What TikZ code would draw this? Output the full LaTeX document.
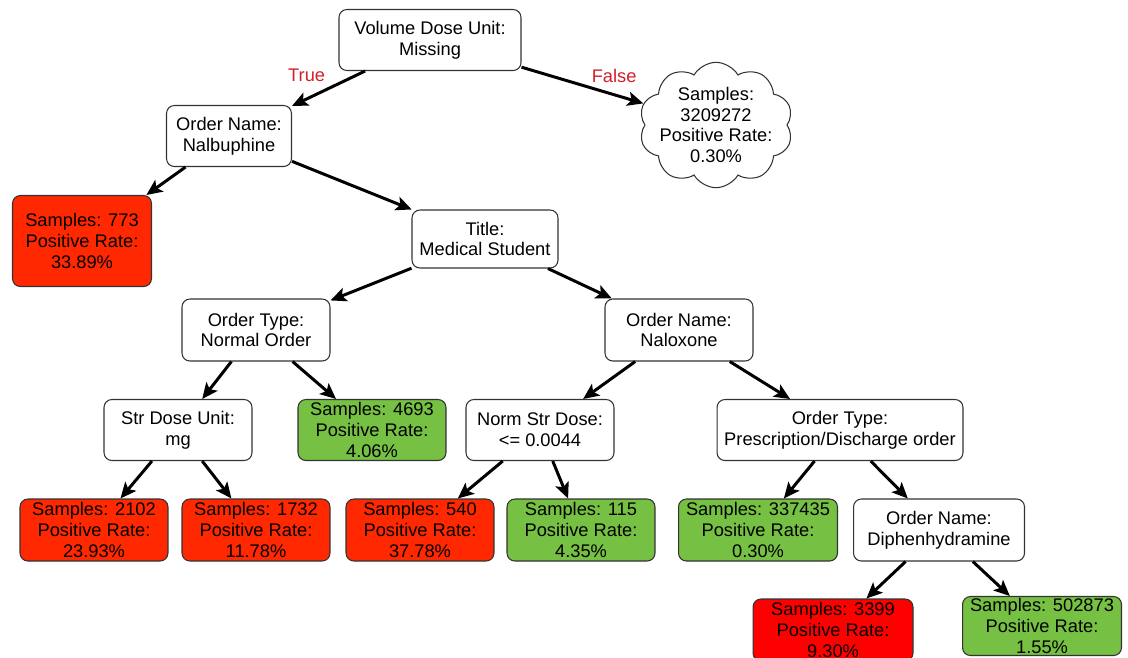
\documentclass[tikz,border=0pt]{standalone}
\usepackage{fontspec}
\setmainfont{Liberation Sans}
\usepackage{xcolor}
\usetikzlibrary{arrows.meta,shapes.symbols}
\definecolor{leafred}{RGB}{255,40,0}
\definecolor{leafpure}{RGB}{255,0,0}
\definecolor{leafgreen}{RGB}{118,192,67}
\definecolor{truered}{RGB}{208,32,40}

\begin{document}
\begin{tikzpicture}[x=0.02cm,y=-0.02cm,
  every node/.style={font=\fontsize{10.4}{11.9}\selectfont, align=center},
  box/.style={draw=black!80, rounded corners=4.5pt, line width=0.6pt, fill=white, inner sep=0pt, minimum height=1.22cm, minimum width=2.96cm},
  leaf/.style={box, fill=#1},
  arr/.style={-{Stealth[length=9pt,width=8pt,inset=2pt]}, line width=1.7pt},
  lbl/.style={text=truered}]
\useasboundingbox (0,0) rectangle (1128,657);

\node[box, minimum width=3.64cm](root) at (430,40){Volume Dose Unit:\\Missing};
\node[box, minimum width=2.5cm](nalb) at (229,136){Order Name:\\Nalbuphine};
\node[draw=black!80, line width=0.6pt, cloud, cloud puffs=10, cloud puff arc=120, cloud ignores aspect, inner xsep=-3.5pt, inner ysep=-0.5pt](cloud) at (716,125){Samples:\\3209272\\Positive Rate:\\0.30\%};
\node[leaf=leafred, minimum width=2.78cm, minimum height=1.82cm](l773) at (82,241){Samples: 773\\Positive Rate:\\33.89\%};
\node[box, minimum width=2.92cm, minimum height=1.16cm](title) at (485,239){Title:\\Medical Student};
\node[box, minimum height=1.24cm](normal) at (256,330){Order Type:\\Normal Order};
\node[box, minimum height=1.24cm](nalox) at (679,330){Order Name:\\Naloxone};
\node[box](strdose) at (178,430){Str Dose Unit:\\mg};
\node[leaf=leafgreen](l4693) at (372,430){Samples: 4693\\Positive Rate:\\4.06\%};
\node[box](normstr) at (540,430){Norm Str Dose:\\<= 0.0044};
\node[box, minimum width=4.92cm](presc) at (840,430){Order Type:\\Prescription/Discharge order};
\node[leaf=leafred, minimum height=1.24cm](l2102) at (94,530){Samples: 2102\\Positive Rate:\\23.93\%};
\node[leaf=leafred, minimum height=1.24cm](l1732) at (256,530){Samples: 1732\\Positive Rate:\\11.78\%};
\node[leaf=leafred, minimum height=1.24cm](l540) at (420,530){Samples: 540\\Positive Rate:\\37.78\%};
\node[leaf=leafgreen, minimum height=1.24cm](l115) at (581,530){Samples: 115\\Positive Rate:\\4.35\%};
\node[leaf=leafgreen, minimum width=3.18cm, minimum height=1.24cm](l337435) at (758,530){Samples: 337435\\Positive Rate:\\0.30\%};
\node[box, minimum width=3.42cm, minimum height=1.24cm](diphen) at (939,530){Order Name:\\Diphenhydramine};
\node[leaf=leafpure, minimum width=3.2cm, minimum height=1.24cm](l3399) at (833,630){Samples: 3399\\Positive Rate:\\9.30\%};
\node[leaf=leafgreen, minimum width=3.18cm, minimum height=1.18cm](l502873) at (1042,626){Samples: 502873\\Positive Rate:\\1.55\%};

\draw[arr] (root) -- (nalb) node[lbl, pos=0.8, above=0.19cm]{True};
\draw[arr] (root) -- (cloud) node[lbl, pos=0.76, above=0.1cm]{False};
\draw[arr] (nalb) -- (l773);
\draw[arr] (nalb) -- (title);
\draw[arr] (title) -- (normal);
\draw[arr] (title) -- (nalox);
\draw[arr] (normal) -- (strdose);
\draw[arr] (normal) -- (l4693);
\draw[arr] (strdose) -- (l2102);
\draw[arr] (strdose) -- (l1732);
\draw[arr] (nalox) -- (normstr);
\draw[arr] (nalox) -- (presc);
\draw[arr] (normstr) -- (l540);
\draw[arr] (normstr) -- (l115);
\draw[arr] (presc) -- (l337435);
\draw[arr] (presc) -- (diphen);
\draw[arr] (diphen) -- (l3399);
\draw[arr] (diphen) -- (l502873);
\end{tikzpicture}
\end{document}
